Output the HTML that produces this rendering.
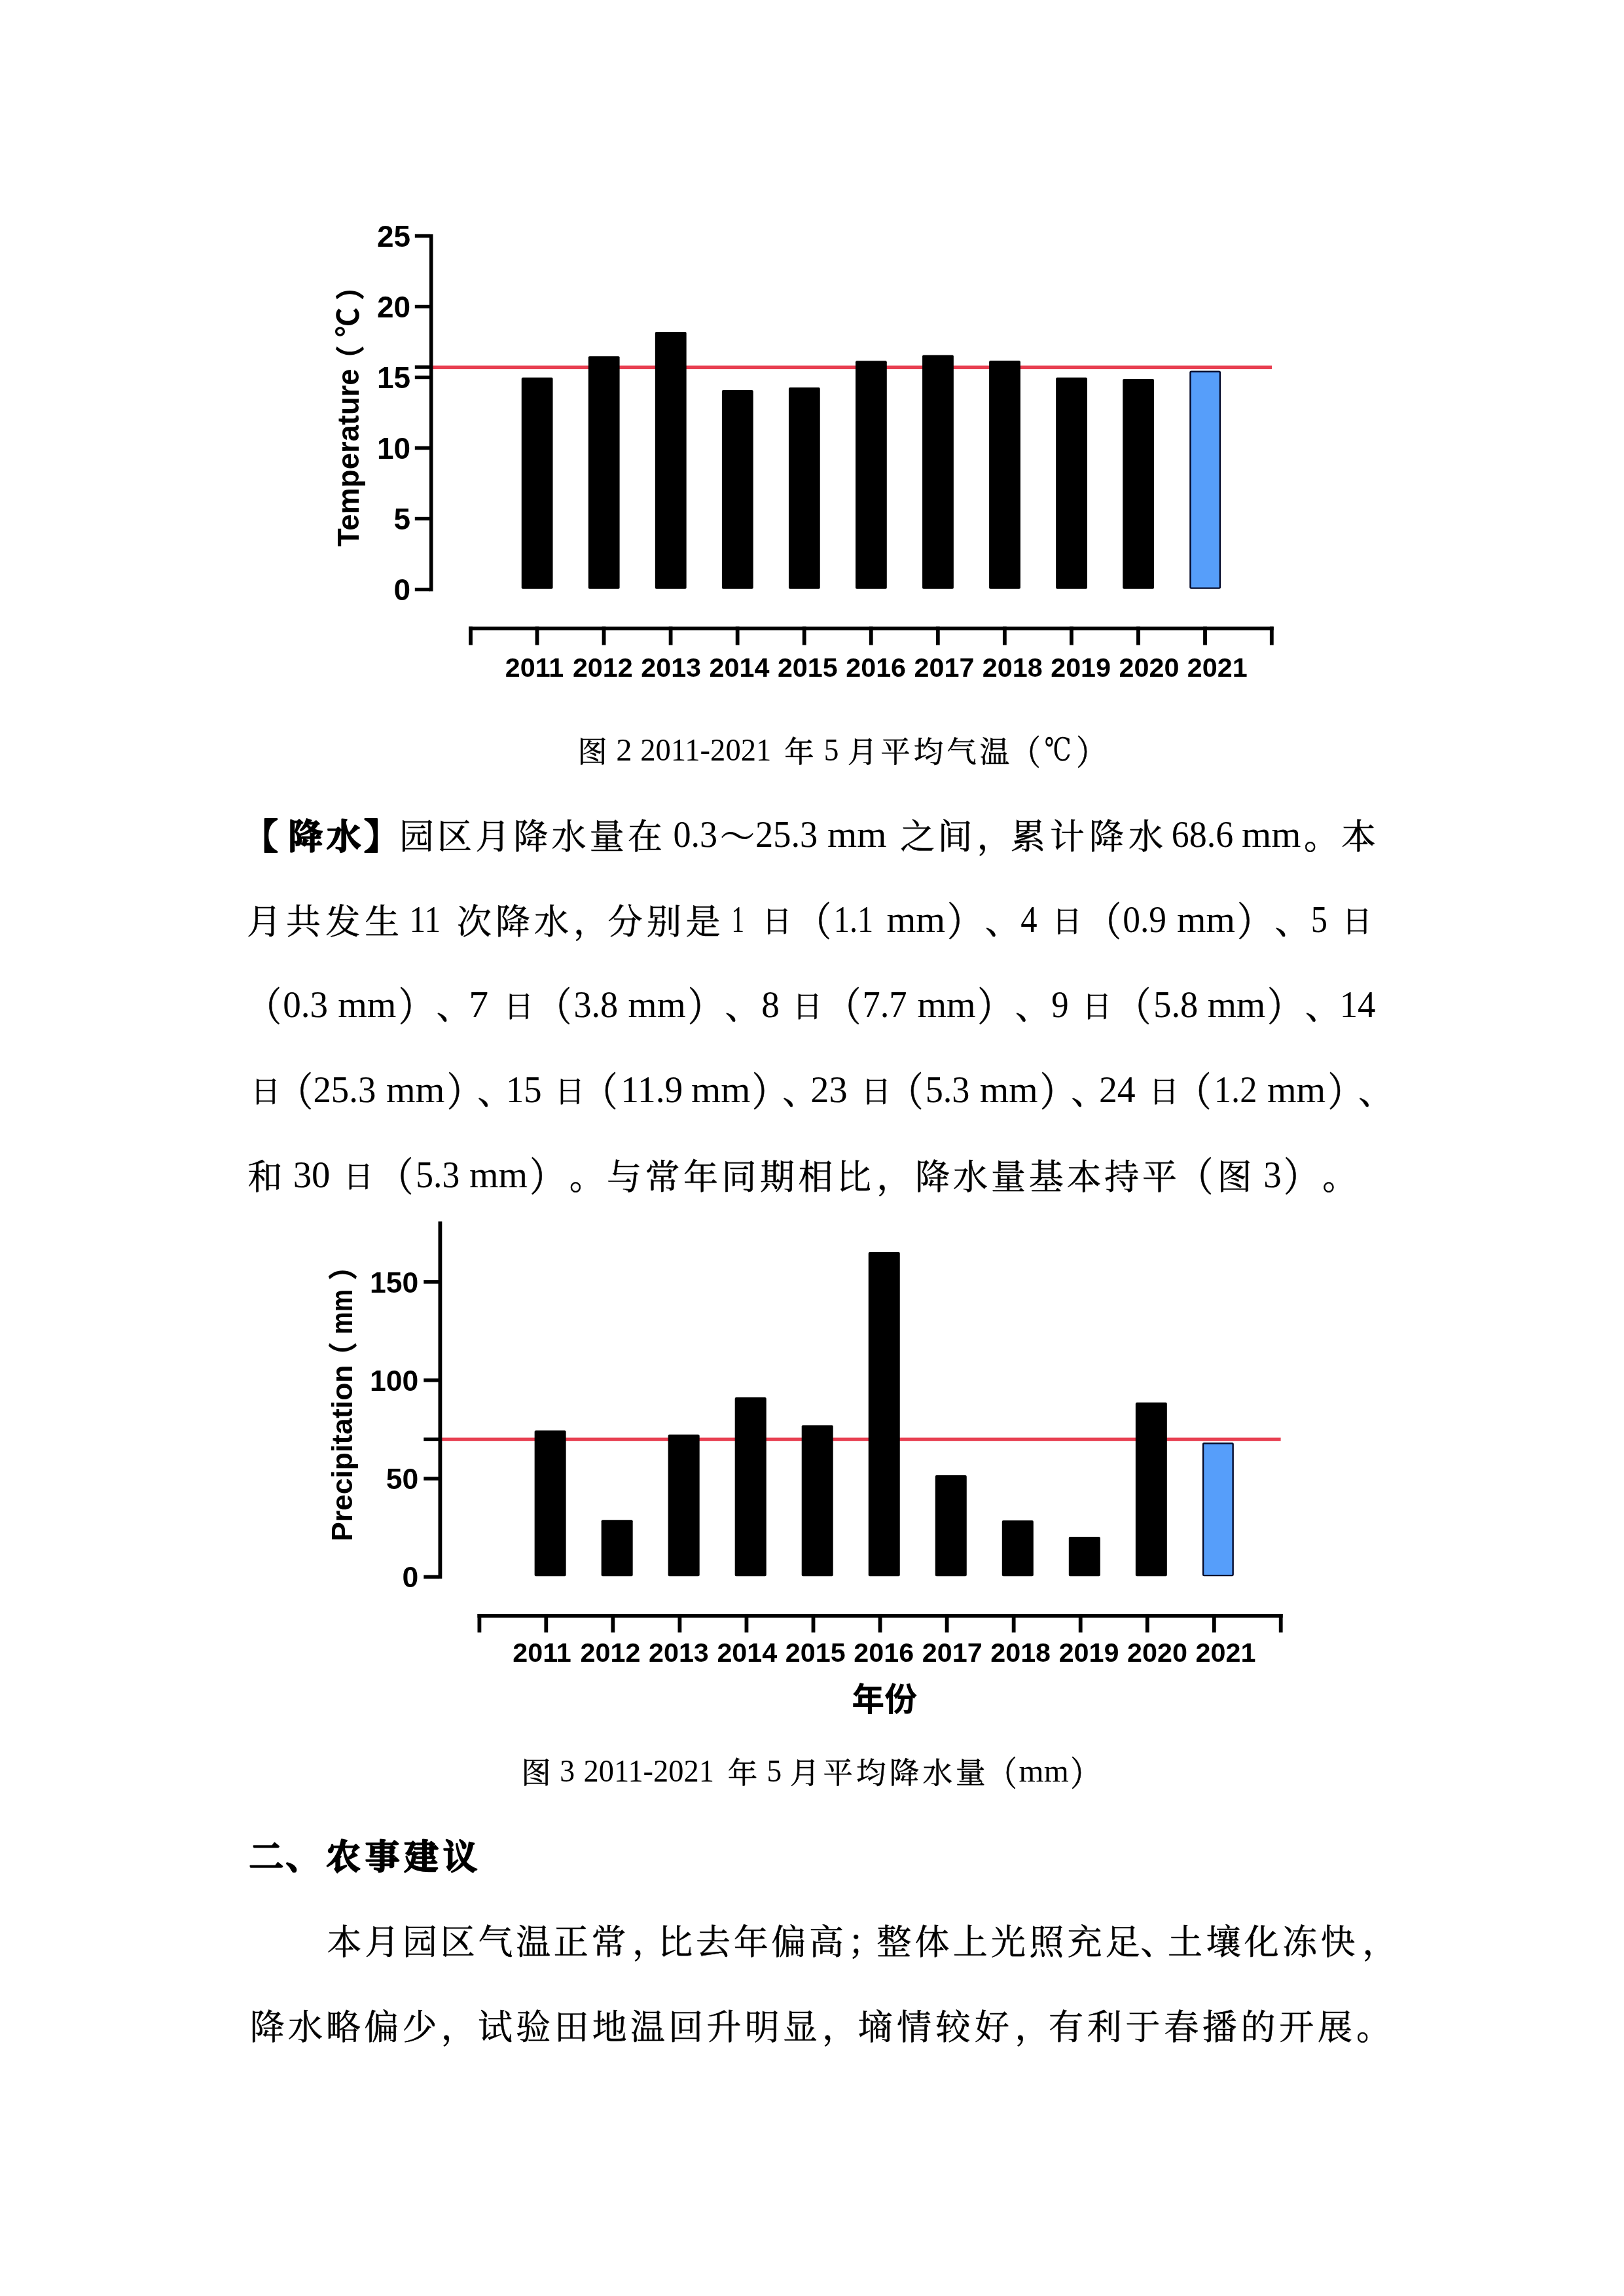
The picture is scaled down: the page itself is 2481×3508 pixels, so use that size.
<!DOCTYPE html>
<html lang="zh-CN">
<head>
<meta charset="utf-8">
<title>园区气象月报 2021 年 5 月</title>
<style>
html,body{margin:0;padding:0;background:#fff}
body{width:2481px;height:3508px;position:relative;overflow:hidden;color:#000;
 font-family:"Liberation Serif","Noto Serif CJK SC",serif}
svg{position:absolute;left:0;top:0;will-change:transform}
text{white-space:pre}
.ab{font-family:"Liberation Sans",sans-serif;font-weight:700;fill:#000}
.cb{font-family:"Liberation Sans","Noto Sans CJK SC",sans-serif;font-weight:700;fill:#000}
.k{font-family:"Noto Serif CJK SC","Noto Serif CJK JP",serif;font-weight:400;fill:#000;stroke:#000;stroke-width:.55px}
.r{font-family:"Liberation Serif","Noto Serif CJK SC",serif;font-weight:400;fill:#000}
.dv{font-family:"DejaVu Serif","Liberation Serif",serif;font-weight:400;fill:#000}
.b{font-weight:600;stroke:#000;stroke-width:2.4px;stroke-linejoin:round}
</style>
</head>
<body>
<svg width="2481" height="3508" viewBox="0 0 2481 3508" lang="zh-CN">
<g id="fig2">
<rect x="661" y="558.55" width="1282" height="5.5" fill="#E84052"/>
<rect x="656" y="358" width="5.5" height="545.4" fill="#000"/>
<rect x="633.8" y="357.8" width="23.2" height="5.4" fill="#000"/>
<text class="ab" x="627.2" y="376.9" font-size="46" text-anchor="end">25</text>
<rect x="633.8" y="465.8" width="23.2" height="5.4" fill="#000"/>
<text class="ab" x="627.2" y="484.9" font-size="46" text-anchor="end">20</text>
<rect x="633.8" y="573.8" width="23.2" height="5.4" fill="#000"/>
<text class="ab" x="627.2" y="592.9" font-size="46" text-anchor="end">15</text>
<rect x="633.8" y="681.8" width="23.2" height="5.4" fill="#000"/>
<text class="ab" x="627.2" y="700.9" font-size="46" text-anchor="end">10</text>
<rect x="633.8" y="789.8" width="23.2" height="5.4" fill="#000"/>
<text class="ab" x="627.2" y="808.9" font-size="46" text-anchor="end">5</text>
<rect x="633.8" y="897.9" width="23.2" height="5.4" fill="#000"/>
<text class="ab" x="627.2" y="917" font-size="46" text-anchor="end">0</text>
<rect x="633.8" y="558.3" width="23.2" height="5.4" fill="#000"/>
<rect x="796.75" y="576.8" width="47.8" height="323" fill="#000" rx="2"/>
<rect x="898.8" y="544.3" width="47.8" height="355.5" fill="#000" rx="2"/>
<rect x="1000.85" y="507" width="47.8" height="392.8" fill="#000" rx="2"/>
<rect x="1102.9" y="596" width="47.8" height="303.8" fill="#000" rx="2"/>
<rect x="1204.95" y="592" width="47.8" height="307.8" fill="#000" rx="2"/>
<rect x="1307" y="551.3" width="47.8" height="348.5" fill="#000" rx="2"/>
<rect x="1409.05" y="542.5" width="47.8" height="357.3" fill="#000" rx="2"/>
<rect x="1511.1" y="551" width="47.8" height="348.8" fill="#000" rx="2"/>
<rect x="1613.15" y="576.8" width="47.8" height="323" fill="#000" rx="2"/>
<rect x="1715.2" y="579" width="47.8" height="320.8" fill="#000" rx="2"/>
<rect x="1818.45" y="567.7" width="45.4" height="330.9" fill="#569EFA" rx="1.5" stroke="#050A2A" stroke-width="2.4"/>
<rect x="716.1" y="957.5" width="1229.6" height="5.6" fill="#000"/>
<rect x="716.1" y="957.5" width="5.8" height="28.1" fill="#000"/>
<rect x="1939.9" y="957.5" width="5.8" height="28.1" fill="#000"/>
<rect x="817.6" y="957.5" width="5.8" height="28.1" fill="#000"/>
<text class="ab" x="816.5" y="1034" font-size="41.3" text-anchor="middle">2011</text>
<rect x="919.65" y="957.5" width="5.8" height="28.1" fill="#000"/>
<text class="ab" x="920.83" y="1034" font-size="41.3" text-anchor="middle">2012</text>
<rect x="1021.7" y="957.5" width="5.8" height="28.1" fill="#000"/>
<text class="ab" x="1025.16" y="1034" font-size="41.3" text-anchor="middle">2013</text>
<rect x="1123.75" y="957.5" width="5.8" height="28.1" fill="#000"/>
<text class="ab" x="1129.49" y="1034" font-size="41.3" text-anchor="middle">2014</text>
<rect x="1225.8" y="957.5" width="5.8" height="28.1" fill="#000"/>
<text class="ab" x="1233.82" y="1034" font-size="41.3" text-anchor="middle">2015</text>
<rect x="1327.85" y="957.5" width="5.8" height="28.1" fill="#000"/>
<text class="ab" x="1338.15" y="1034" font-size="41.3" text-anchor="middle">2016</text>
<rect x="1429.9" y="957.5" width="5.8" height="28.1" fill="#000"/>
<text class="ab" x="1442.48" y="1034" font-size="41.3" text-anchor="middle">2017</text>
<rect x="1531.95" y="957.5" width="5.8" height="28.1" fill="#000"/>
<text class="ab" x="1546.81" y="1034" font-size="41.3" text-anchor="middle">2018</text>
<rect x="1634" y="957.5" width="5.8" height="28.1" fill="#000"/>
<text class="ab" x="1651.14" y="1034" font-size="41.3" text-anchor="middle">2019</text>
<rect x="1736.05" y="957.5" width="5.8" height="28.1" fill="#000"/>
<text class="ab" x="1755.47" y="1034" font-size="41.3" text-anchor="middle">2020</text>
<rect x="1838.1" y="957.5" width="5.8" height="28.1" fill="#000"/>
<text class="ab" x="1859.8" y="1034" font-size="41.3" text-anchor="middle">2021</text>
<text class="ab" font-size="45.4" transform="translate(548,835) rotate(-90) scale(1,1)">Temperature</text>
<text class="cb" font-size="45" transform="translate(552,572.3) rotate(-90) scale(1,1)">（</text>
<text class="cb" font-size="45" transform="translate(548,515.1) rotate(-90) scale(1,1)">℃</text>
<text class="cb" font-size="45" transform="translate(552,459.2) rotate(-90) scale(1,1)">）</text>
</g>
<g id="cap2">
<text class="k" x="882.35" y="1164.82" font-size="45.5">图</text>
<text class="r" font-size="49" transform="translate(941.21,1162.4) scale(0.9950,1)">2</text>
<text class="r" font-size="49" transform="translate(978.2,1162.4) scale(0.9505,1)">2011-2021</text>
<text class="k" x="1198.25" y="1164.82" font-size="45.5">年</text>
<text class="r" font-size="49" transform="translate(1258.82,1162.4) scale(0.9250,1)">5</text>
<text class="k" x="1294.75" y="1164.82" font-size="45.5" letter-spacing="4.98">月平均气温</text>
<text class="k" font-size="45.5" transform="translate(1544.35,1168) scale(1,1.15)">（</text>
<text class="dv" font-size="49" transform="translate(1595.49,1162.4) scale(0.7531,1)">℃</text>
<text class="k" font-size="45.5" transform="translate(1644.35,1168) scale(1,1.15)">）</text>
</g>
<g id="L1">
<text class="k b" x="371.65" y="1297.4" font-size="53">【</text>
<text class="k b" x="440.2" y="1297.4" font-size="53" letter-spacing="5.5">降水</text>
<text class="k b" x="556.1" y="1297.4" font-size="53">】</text>
<text class="k" x="609.9" y="1297.4" font-size="53" letter-spacing="5.17">园区月降水量在</text>
<text class="r" font-size="57" transform="translate(1028.5,1293.9) scale(0.9493,1)">0.3</text>
<text class="k" x="1100" y="1297.4" font-size="53">～</text>
<text class="r" font-size="57" transform="translate(1154.09,1293.9) scale(0.9552,1)">25.3</text>
<text class="r" font-size="57" transform="translate(1263.98,1293.9) scale(1.0195,1)">mm</text>
<text class="k" x="1375.3" y="1297.4" font-size="53" letter-spacing="4.2">之间</text>
<text class="k" x="1492.55" y="1297.4" font-size="53">，</text>
<text class="k" x="1544" y="1297.4" font-size="53" letter-spacing="6.97">累计降水</text>
<text class="r" font-size="57" transform="translate(1789.81,1293.9) scale(0.9469,1)">68.6</text>
<text class="r" font-size="57" transform="translate(1897.08,1293.9) scale(1.0195,1)">mm</text>
<text class="k" x="1992.1" y="1297.4" font-size="53">。</text>
<text class="k" x="2049" y="1297.4" font-size="53">本</text>
</g>
<g id="L2">
<text class="k" x="377" y="1427.31" font-size="53" letter-spacing="7.07">月共发生</text>
<text class="r" font-size="57" transform="translate(625.57,1423.8) scale(0.8660,1)">11</text>
<text class="k" x="698" y="1427.31" font-size="53" letter-spacing="6">次降水</text>
<text class="k" x="875.95" y="1427.31" font-size="53">，</text>
<text class="k" x="928.5" y="1427.31" font-size="53" letter-spacing="6.5">分别是</text>
<text class="r" font-size="57" transform="translate(1117.48,1423.8) scale(0.6850,1)">1</text>
<text class="k" x="1164.21" y="1424.45" font-size="45.58">日</text>
<text class="k" font-size="53" transform="translate(1217.05,1430.48) scale(1,1.15)">（</text>
<text class="r" font-size="57" transform="translate(1273.75,1423.8) scale(0.8492,1)">1.1</text>
<text class="r" font-size="57" transform="translate(1354.49,1423.8) scale(1.0115,1)">mm</text>
<text class="k" font-size="53" transform="translate(1447.1,1430.48) scale(1,1.15)">）</text>
<text class="k" x="1505" y="1427.31" font-size="53">、</text>
<text class="r" font-size="57" transform="translate(1559.21,1423.8) scale(0.8889,1)">4</text>
<text class="k" x="1607.51" y="1424.45" font-size="45.58">日</text>
<text class="k" font-size="53" transform="translate(1659.9,1430.48) scale(1,1.15)">（</text>
<text class="r" font-size="57" transform="translate(1715.23,1423.8) scale(0.9373,1)">0.9</text>
<text class="r" font-size="57" transform="translate(1798.1,1423.8) scale(1.0023,1)">mm</text>
<text class="k" font-size="53" transform="translate(1889.9,1430.48) scale(1,1.15)">）</text>
<text class="k" x="1947.85" y="1427.31" font-size="53">、</text>
<text class="r" font-size="57" transform="translate(2002.65,1423.8) scale(0.8826,1)">5</text>
<text class="k" x="2050.51" y="1424.45" font-size="45.58">日</text>
</g>
<g id="L3">
<text class="k" font-size="53" transform="translate(376.9,1560.38) scale(1,1.15)">（</text>
<text class="r" font-size="57" transform="translate(432.17,1553.7) scale(0.9657,1)">0.3</text>
<text class="r" font-size="57" transform="translate(516.19,1553.7) scale(1.0069,1)">mm</text>
<text class="k" font-size="53" transform="translate(608.8,1560.38) scale(1,1.15)">）</text>
<text class="k" x="666.65" y="1557.2" font-size="53">、</text>
<text class="r" font-size="57" transform="translate(716.21,1553.7) scale(1.0478,1)">7</text>
<text class="k" x="769.71" y="1554.35" font-size="45.58">日</text>
<text class="k" font-size="53" transform="translate(820.25,1560.38) scale(1,1.15)">（</text>
<text class="r" font-size="57" transform="translate(876.45,1553.7) scale(0.9515,1)">3.8</text>
<text class="r" font-size="57" transform="translate(959.61,1553.7) scale(0.9931,1)">mm</text>
<text class="k" font-size="53" transform="translate(1050.8,1560.38) scale(1,1.15)">）</text>
<text class="k" x="1107.85" y="1557.2" font-size="53">、</text>
<text class="r" font-size="57" transform="translate(1163.37,1553.7) scale(0.9667,1)">8</text>
<text class="k" x="1210.81" y="1554.35" font-size="45.58">日</text>
<text class="k" font-size="53" transform="translate(1262.35,1560.38) scale(1,1.15)">（</text>
<text class="r" font-size="57" transform="translate(1317.48,1553.7) scale(0.9561,1)">7.7</text>
<text class="r" font-size="57" transform="translate(1401.49,1553.7) scale(1.0069,1)">mm</text>
<text class="k" font-size="53" transform="translate(1493.25,1560.38) scale(1,1.15)">）</text>
<text class="k" x="1551.1" y="1557.2" font-size="53">、</text>
<text class="r" font-size="57" transform="translate(1606.25,1553.7) scale(0.9250,1)">9</text>
<text class="k" x="1653.11" y="1554.35" font-size="45.58">日</text>
<text class="k" font-size="53" transform="translate(1705.15,1560.38) scale(1,1.15)">（</text>
<text class="r" font-size="57" transform="translate(1762.24,1553.7) scale(0.9530,1)">5.8</text>
<text class="r" font-size="57" transform="translate(1844.7,1553.7) scale(0.9977,1)">mm</text>
<text class="k" font-size="53" transform="translate(1936.1,1560.38) scale(1,1.15)">）</text>
<text class="k" x="1994.05" y="1557.2" font-size="53">、</text>
<text class="r" font-size="57" transform="translate(2046.69,1553.7) scale(0.9627,1)">14</text>
</g>
<g id="L4">
<text class="k" x="382.91" y="1684.35" font-size="45.58">日</text>
<text class="k" font-size="53" transform="translate(424.95,1690.38) scale(1,1.15)">（</text>
<text class="r" font-size="57" transform="translate(478.38,1683.7) scale(0.9625,1)">25.3</text>
<text class="r" font-size="57" transform="translate(590.09,1683.7) scale(1.0069,1)">mm</text>
<text class="k" font-size="53" transform="translate(682.65,1690.38) scale(1,1.15)">）</text>
<text class="k" x="729.5" y="1687.2" font-size="53">、</text>
<text class="r" font-size="57" transform="translate(772.9,1683.7) scale(0.9600,1)">15</text>
<text class="k" x="847.81" y="1684.35" font-size="45.58">日</text>
<text class="k" font-size="53" transform="translate(890.45,1690.38) scale(1,1.15)">（</text>
<text class="r" font-size="57" transform="translate(948.33,1683.7) scale(0.9733,1)">11.9</text>
<text class="r" font-size="57" transform="translate(1055.98,1683.7) scale(1.0195,1)">mm</text>
<text class="k" font-size="53" transform="translate(1148.75,1690.38) scale(1,1.15)">）</text>
<text class="k" x="1195.55" y="1687.2" font-size="53">、</text>
<text class="r" font-size="57" transform="translate(1238.32,1683.7) scale(0.9887,1)">23</text>
<text class="k" x="1315.71" y="1684.35" font-size="45.58">日</text>
<text class="k" font-size="53" transform="translate(1357.45,1690.38) scale(1,1.15)">（</text>
<text class="r" font-size="57" transform="translate(1413.65,1683.7) scale(0.9515,1)">5.3</text>
<text class="r" font-size="57" transform="translate(1496.8,1683.7) scale(1.0011,1)">mm</text>
<text class="k" font-size="53" transform="translate(1588.8,1690.38) scale(1,1.15)">）</text>
<text class="k" x="1636.6" y="1687.2" font-size="53">、</text>
<text class="r" font-size="57" transform="translate(1678.94,1683.7) scale(0.9778,1)">24</text>
<text class="k" x="1755.61" y="1684.35" font-size="45.58">日</text>
<text class="k" font-size="53" transform="translate(1797.55,1690.38) scale(1,1.15)">（</text>
<text class="r" font-size="57" transform="translate(1854.8,1683.7) scale(0.9206,1)">1.2</text>
<text class="r" font-size="57" transform="translate(1935.89,1683.7) scale(1.0069,1)">mm</text>
<text class="k" font-size="53" transform="translate(2028.5,1690.38) scale(1,1.15)">）</text>
<text class="k" x="2075.3" y="1687.2" font-size="53">、</text>
</g>
<g id="L5">
<text class="k" x="378.4" y="1817.2" font-size="53">和</text>
<text class="r" font-size="57" transform="translate(447.71,1813.7) scale(0.9962,1)">30</text>
<text class="k" x="524.71" y="1814.35" font-size="45.58">日</text>
<text class="k" font-size="53" transform="translate(578.3,1820.38) scale(1,1.15)">（</text>
<text class="r" font-size="57" transform="translate(635.28,1813.7) scale(0.9394,1)">5.3</text>
<text class="r" font-size="57" transform="translate(716.89,1813.7) scale(1.0057,1)">mm</text>
<text class="k" font-size="53" transform="translate(809.2,1820.38) scale(1,1.15)">）</text>
<text class="k" x="869.8" y="1817.2" font-size="53">。</text>
<text class="k" x="927" y="1817.2" font-size="53" letter-spacing="5.5">与常年同期相比</text>
<text class="k" x="1339.25" y="1817.2" font-size="53">，</text>
<text class="k" x="1398.3" y="1817.2" font-size="53" letter-spacing="4.8">降水量基本持平</text>
<text class="k" font-size="53" transform="translate(1800.3,1820.38) scale(1,1.15)">（</text>
<text class="k" x="1859.6" y="1817.2" font-size="53">图</text>
<text class="r" font-size="57" transform="translate(1930.3,1813.7) scale(0.9652,1)">3</text>
<text class="k" font-size="53" transform="translate(1961,1820.38) scale(1,1.15)">）</text>
<text class="k" x="2020.35" y="1817.2" font-size="53">。</text>
</g>
<g id="fig3">
<rect x="674.8" y="2196.55" width="1281.8" height="5.3" fill="#E84052"/>
<rect x="669.5" y="1866.3" width="5.8" height="545.6" fill="#000"/>
<rect x="647.3" y="1955.95" width="23.2" height="5.5" fill="#000"/>
<text class="ab" x="639.3" y="1974.6" font-size="44.5" text-anchor="end">150</text>
<rect x="647.3" y="2106.15" width="23.2" height="5.5" fill="#000"/>
<text class="ab" x="639.3" y="2124.8" font-size="44.5" text-anchor="end">100</text>
<rect x="647.3" y="2256.45" width="23.2" height="5.5" fill="#000"/>
<text class="ab" x="639.3" y="2275.1" font-size="44.5" text-anchor="end">50</text>
<rect x="647.3" y="2406.45" width="23.2" height="5.5" fill="#000"/>
<text class="ab" x="639.3" y="2425.1" font-size="44.5" text-anchor="end">0</text>
<rect x="647.3" y="2196.45" width="23.2" height="5.5" fill="#000"/>
<rect x="816.65" y="2185.6" width="48" height="222.7" fill="#000" rx="2"/>
<rect x="918.67" y="2322.3" width="48" height="86" fill="#000" rx="2"/>
<rect x="1020.69" y="2191.8" width="48" height="216.5" fill="#000" rx="2"/>
<rect x="1122.71" y="2135" width="48" height="273.3" fill="#000" rx="2"/>
<rect x="1224.73" y="2177.4" width="48" height="230.9" fill="#000" rx="2"/>
<rect x="1326.75" y="1912.9" width="48" height="495.4" fill="#000" rx="2"/>
<rect x="1428.77" y="2253.9" width="48" height="154.4" fill="#000" rx="2"/>
<rect x="1530.79" y="2323" width="48" height="85.3" fill="#000" rx="2"/>
<rect x="1632.81" y="2348.1" width="48" height="60.2" fill="#000" rx="2"/>
<rect x="1734.83" y="2142.7" width="48" height="265.6" fill="#000" rx="2"/>
<rect x="1838.05" y="2205.2" width="45.6" height="201.9" fill="#569EFA" rx="1.5" stroke="#050A2A" stroke-width="2.4"/>
<rect x="729.5" y="2465.95" width="1230.1" height="5.7" fill="#000"/>
<rect x="729.5" y="2465.95" width="5.8" height="28.35" fill="#000"/>
<rect x="1953.8" y="2465.95" width="5.8" height="28.35" fill="#000"/>
<rect x="831.4" y="2465.95" width="5.8" height="28.35" fill="#000"/>
<text class="ab" x="828" y="2538.7" font-size="41.3" text-anchor="middle">2011</text>
<rect x="933.45" y="2465.95" width="5.8" height="28.35" fill="#000"/>
<text class="ab" x="932.45" y="2538.7" font-size="41.3" text-anchor="middle">2012</text>
<rect x="1035.5" y="2465.95" width="5.8" height="28.35" fill="#000"/>
<text class="ab" x="1036.9" y="2538.7" font-size="41.3" text-anchor="middle">2013</text>
<rect x="1137.55" y="2465.95" width="5.8" height="28.35" fill="#000"/>
<text class="ab" x="1141.35" y="2538.7" font-size="41.3" text-anchor="middle">2014</text>
<rect x="1239.6" y="2465.95" width="5.8" height="28.35" fill="#000"/>
<text class="ab" x="1245.8" y="2538.7" font-size="41.3" text-anchor="middle">2015</text>
<rect x="1341.65" y="2465.95" width="5.8" height="28.35" fill="#000"/>
<text class="ab" x="1350.25" y="2538.7" font-size="41.3" text-anchor="middle">2016</text>
<rect x="1443.7" y="2465.95" width="5.8" height="28.35" fill="#000"/>
<text class="ab" x="1454.7" y="2538.7" font-size="41.3" text-anchor="middle">2017</text>
<rect x="1545.75" y="2465.95" width="5.8" height="28.35" fill="#000"/>
<text class="ab" x="1559.15" y="2538.7" font-size="41.3" text-anchor="middle">2018</text>
<rect x="1647.8" y="2465.95" width="5.8" height="28.35" fill="#000"/>
<text class="ab" x="1663.6" y="2538.7" font-size="41.3" text-anchor="middle">2019</text>
<rect x="1749.85" y="2465.95" width="5.8" height="28.35" fill="#000"/>
<text class="ab" x="1768.05" y="2538.7" font-size="41.3" text-anchor="middle">2020</text>
<rect x="1851.9" y="2465.95" width="5.8" height="28.35" fill="#000"/>
<text class="ab" x="1872.5" y="2538.7" font-size="41.3" text-anchor="middle">2021</text>
<text class="ab" font-size="44.5" transform="translate(537.9,2355) rotate(-90) scale(1,1)">Precipitation</text>
<text class="cb" font-size="45" transform="translate(541,2095) rotate(-90) scale(1,1)">（</text>
<text class="cb" font-size="46" transform="translate(537.9,2038.7) rotate(-90) scale(0.84,1)">mm</text>
<text class="cb" font-size="45" transform="translate(541,1956.4) rotate(-90) scale(1,1)">）</text>
<text class="cb" font-size="50" x="1351.3" y="2614" text-anchor="middle">年份</text>
</g>
<g id="cap3">
<text class="k" x="796.25" y="2725.12" font-size="45.5">图</text>
<text class="r" font-size="49" transform="translate(855.33,2722.2) scale(0.9333,1)">3</text>
<text class="r" font-size="49" transform="translate(891.51,2722.2) scale(0.9471,1)">2011-2021</text>
<text class="k" x="1111.75" y="2725.12" font-size="45.5">年</text>
<text class="r" font-size="49" transform="translate(1171.42,2722.2) scale(0.9250,1)">5</text>
<text class="k" x="1206.75" y="2725.12" font-size="45.5" letter-spacing="5.16">月平均降水量</text>
<text class="k" font-size="45.5" transform="translate(1508.3,2728.3) scale(1,1.15)">（</text>
<text class="r" font-size="49" transform="translate(1556.6,2722.2) scale(0.9986,1)">mm</text>
<text class="k" font-size="45.5" transform="translate(1635.3,2728.3) scale(1,1.15)">）</text>
</g>
<g id="H">
<text class="k b" x="380.3" y="2856.21" font-size="53">二</text>
<text class="k b" x="436.15" y="2856.21" font-size="53">、</text>
<text class="k b" x="498.1" y="2856.21" font-size="53" letter-spacing="6.43">农事建议</text>
</g>
<g id="A">
<text class="k" x="499.6" y="2985.91" font-size="53" letter-spacing="4.71">本月园区气温正常</text>
<text class="k" x="966" y="2985.91" font-size="53">，</text>
<text class="k" x="1005.2" y="2985.91" font-size="53" letter-spacing="4.72">比去年偏高</text>
<text class="k" x="1295.5" y="2985.91" font-size="53">；</text>
<text class="k" x="1339.2" y="2985.91" font-size="53" letter-spacing="5.27">整体上光照充足</text>
<text class="k" x="1742.25" y="2985.91" font-size="53">、</text>
<text class="k" x="1784.1" y="2985.91" font-size="53" letter-spacing="5.38">土壤化冻快</text>
<text class="k" x="2081.35" y="2985.91" font-size="53">，</text>
</g>
<g id="B">
<text class="k" x="381.7" y="3116.21" font-size="53" letter-spacing="5.2">降水略偏少</text>
<text class="k" x="673.65" y="3116.21" font-size="53">，</text>
<text class="k" x="730" y="3116.21" font-size="53" letter-spacing="5.26">试验田地温回升明显</text>
<text class="k" x="1256.1" y="3116.21" font-size="53">，</text>
<text class="k" x="1310.6" y="3116.21" font-size="53" letter-spacing="6.43">墒情较好</text>
<text class="k" x="1550.5" y="3116.21" font-size="53">，</text>
<text class="k" x="1602" y="3116.21" font-size="53" letter-spacing="5.71">有利于春播的开展</text>
<text class="k" x="2072.05" y="3116.21" font-size="53">。</text>
</g>
</svg>
</body>
</html>
